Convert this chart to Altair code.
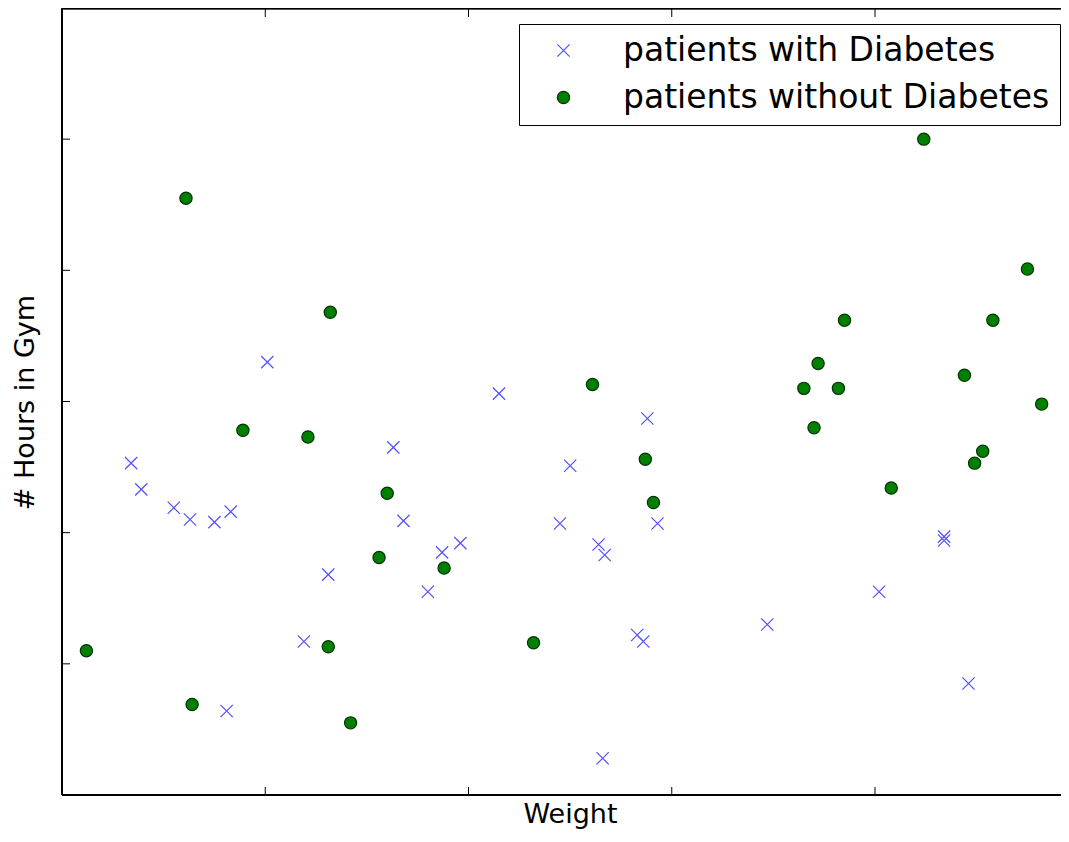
import altair as alt
import pandas as pd

# ---- data (axis units: one tick interval = 1) ----
diab_x = [0.34, 0.39, 0.55, 0.63, 0.75, 0.83, 1.01, 0.81, 1.19, 1.31,
          1.63, 1.68, 1.80, 1.87, 1.96, 2.15, 2.45, 2.50, 2.64, 2.67,
          2.66, 2.83, 2.86, 2.88, 2.93, 3.47, 4.02, 4.34, 4.34, 4.46]
diab_y = [2.53, 2.33, 2.19, 2.10, 2.08, 2.16, 3.30, 0.64, 1.17, 1.68,
          2.65, 2.09, 1.55, 1.85, 1.92, 3.06, 2.07, 2.51, 1.91, 1.83,
          0.28, 1.22, 1.17, 2.87, 2.07, 1.30, 1.55, 1.97, 1.94, 0.85]

nodiab_x = [0.12, 0.61, 0.64, 0.89, 1.21, 1.32, 1.31, 1.42, 1.56, 1.60,
            1.88, 2.32, 2.61, 2.87, 2.91, 3.65, 3.70, 3.72, 3.82, 3.85,
            4.08, 4.24, 4.44, 4.49, 4.53, 4.58, 4.75, 4.82, 4.955]
nodiab_y = [1.10, 4.55, 0.69, 2.78, 2.73, 3.68, 1.13, 0.55, 1.81, 2.30,
            1.73, 1.16, 3.13, 2.56, 2.23, 3.10, 2.80, 3.29, 3.10, 3.62,
            2.34, 5.00, 3.20, 2.53, 2.62, 3.62, 4.01, 2.98, 4.99]

x_ticks = [1, 2, 3, 4]
y_ticks = [1, 2, 3, 4, 5]
group_labels = ["patients with Diabetes", "patients without Diabetes"]

# ---- layout ----
W, H = 999, 786
PX_PER_X = 203.25
PX_PER_Y = 131.17
FONT = "DejaVu Sans"

df = pd.DataFrame({
    "Weight": diab_x + nodiab_x,
    "Hours": diab_y + nodiab_y,
    "group": [group_labels[0]] * len(diab_x) + [group_labels[1]] * len(nodiab_x),
})

xs = alt.Scale(domain=[0, W / PX_PER_X], nice=False, zero=False)
ys = alt.Scale(domain=[0, H / PX_PER_Y], nice=False, zero=False)

x_axis = alt.Axis(
    title="Weight", ticks=False, labels=False, domain=False, grid=False,
    titleX=508, titleY=27, titleBaseline="alphabetic", titleAlign="center",
    titleFontSize=27, titleFont=FONT, titleFontWeight="normal", titleColor="black")
y_axis = alt.Axis(
    title="# Hours in Gym", ticks=False, labels=False, domain=False, grid=False,
    titleX=-29, titleY=H / 2, titleAngle=270, titleBaseline="alphabetic",
    titleAlign="center", titleFontSize=27, titleFont=FONT,
    titleFontWeight="normal", titleColor="black")

leg = alt.Legend(
    title=None, orient="none", legendX=457, legendY=15, direction="vertical",
    strokeColor="black", fillColor="white", padding=10,
    labelFontSize=33, labelFont=FONT, labelColor="black", labelLimit=2000,
    symbolOffset=18, labelOffset=43, rowPadding=13, symbolSize=150,
    symbolStrokeWidth=1.2, symbolOpacity=1,
)

points = alt.Chart(df).mark_point(
    filled=False, clip=True, strokeWidth=1.2, opacity=1, size=150
).encode(
    x=alt.X("Weight:Q", scale=xs, axis=x_axis),
    y=alt.Y("Hours:Q", scale=ys, axis=y_axis),
    shape=alt.Shape("group:N", scale=alt.Scale(
        domain=group_labels, range=["M-1,-1L1,1M-1,1L1,-1", "circle"]), legend=leg),
    color=alt.Color("group:N", scale=alt.Scale(
        domain=group_labels, range=["#5050ff", "#003300"]), legend=leg),
    fill=alt.Fill("group:N", scale=alt.Scale(
        domain=group_labels, range=["transparent", "#008000"]), legend=leg),
)

xt = pd.DataFrame({"Weight": x_ticks})
yt = pd.DataFrame({"Hours": y_ticks})

bottom_ticks = alt.Chart(xt).mark_rule(color="black", strokeWidth=1).encode(
    x=alt.X("Weight:Q", scale=xs, axis=x_axis), y=alt.value(H), y2=alt.value(H - 8))
top_ticks = alt.Chart(xt).mark_rule(color="black", strokeWidth=1).encode(
    x=alt.X("Weight:Q", scale=xs, axis=x_axis), y=alt.value(0), y2=alt.value(8))
left_ticks = alt.Chart(yt).mark_rule(color="black", strokeWidth=1).encode(
    y=alt.Y("Hours:Q", scale=ys, axis=y_axis), x=alt.value(0), x2=alt.value(8))

# frame on left, top and bottom (the right side lies beyond the picture)
left_line = alt.Chart(xt).mark_rule(color="black", strokeWidth=1.5).encode(
    x=alt.value(0), y=alt.value(-0.5), y2=alt.value(H))
top_line = alt.Chart(xt).mark_rule(color="black", strokeWidth=1.5).encode(
    x=alt.value(0), x2=alt.value(W), y=alt.value(-0.5))
bottom_line = alt.Chart(xt).mark_rule(color="black", strokeWidth=1.5).encode(
    x=alt.value(0), x2=alt.value(W), y=alt.value(H))

chart = alt.layer(
    points, bottom_ticks, top_ticks, left_ticks, left_line, top_line, bottom_line
).properties(
    width=W, height=H,
    padding={"left": 54, "top": 1, "right": 0, "bottom": 34},
    autosize=alt.AutoSizeParams(type="none"),
    background="white",
).configure_view(stroke=None)

chart.save("out.html", embed_options={"renderer": "svg", "actions": False})
